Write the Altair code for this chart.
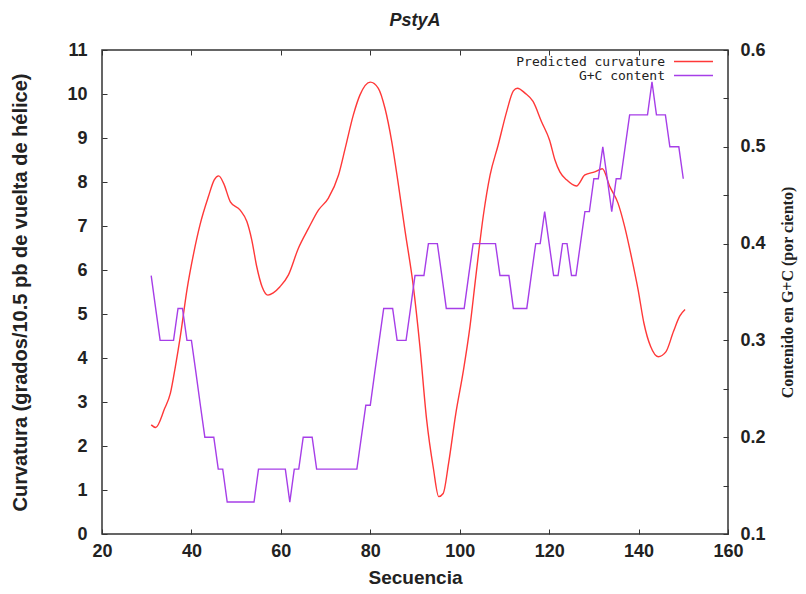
import altair as alt
import pandas as pd

# ---- data ----
series_names = ["Predicted curvature", "G+C content"]
series_colors = ["#ff3838", "#a63ee8"]

curv_x = [31, 32, 34, 35.3, 36.4, 37.5, 39, 40.5, 42, 43.8, 45.1, 46.1, 47.2, 48.7,
          50.9, 52.4, 53.5, 54.6, 55.8, 57.1, 58.3, 59.8, 61.7, 63.9, 66.2, 68.4,
          70.6, 72.9, 74.4, 76.2, 77.7, 80, 81.8, 83.3, 84.8, 86.3, 87.8, 89.6,
          91.1, 92.6, 94.1, 95.3, 96.3, 97.5, 99.1, 100.8, 102.3, 103.6, 105.3,
          106.8, 108.6, 110.5, 112, 112.9, 114.6, 116.4, 118.3, 120.1, 121.3,
          122.4, 123.9, 126.1, 128, 130.2, 131.9, 133.6, 135.4, 136.9, 138.4,
          139.9, 141.2, 142.7, 144.4, 146.1, 147.8, 149.2, 150.4]
curv_y = [2.48, 2.42, 2.85, 3.2, 3.8, 4.48, 5.55, 6.38, 7.06, 7.67, 8.05, 8.14, 7.97,
          7.55, 7.36, 7.1, 6.68, 6.08, 5.62, 5.43, 5.48, 5.62, 5.89, 6.49, 6.95,
          7.36, 7.63, 8.16, 8.77, 9.52, 9.98, 10.27, 10.13, 9.67, 8.92, 7.93, 6.87,
          5.65, 4.26, 2.6, 1.5, 0.85, 0.92, 1.6, 2.72, 3.7, 4.72, 5.85, 7.25, 8.16,
          8.84, 9.6, 10.07, 10.13, 10.02, 9.83, 9.37, 8.95, 8.5, 8.23, 8.05, 7.91,
          8.16, 8.23, 8.3, 7.89, 7.52, 6.98, 6.3, 5.55, 4.79, 4.26, 4.03, 4.14,
          4.6, 4.95, 5.1]

gc_pos = list(range(31, 151))
gc_val = [0.367, 0.333, 0.300, 0.300, 0.300, 0.300, 0.333, 0.333, 0.300, 0.300,  # 31-40
          0.267, 0.233, 0.200, 0.200, 0.200, 0.167, 0.167, 0.133, 0.133, 0.133,  # 41-50
          0.133, 0.133, 0.133, 0.133, 0.167, 0.167, 0.167, 0.167, 0.167, 0.167,  # 51-60
          0.167, 0.133, 0.167, 0.167, 0.200, 0.200, 0.200, 0.167, 0.167, 0.167,  # 61-70
          0.167, 0.167, 0.167, 0.167, 0.167, 0.167, 0.167, 0.200, 0.233, 0.233,  # 71-80
          0.267, 0.300, 0.333, 0.333, 0.333, 0.300, 0.300, 0.300, 0.333, 0.367,  # 81-90
          0.367, 0.367, 0.400, 0.400, 0.400, 0.367, 0.333, 0.333, 0.333, 0.333,  # 91-100
          0.333, 0.367, 0.400, 0.400, 0.400, 0.400, 0.400, 0.400, 0.367, 0.367,  # 101-110
          0.367, 0.333, 0.333, 0.333, 0.333, 0.367, 0.400, 0.400, 0.433, 0.400,  # 111-120
          0.367, 0.367, 0.400, 0.400, 0.367, 0.367, 0.400, 0.433, 0.433, 0.467,  # 121-130
          0.467, 0.500, 0.467, 0.433, 0.467, 0.467, 0.500, 0.533, 0.533, 0.533,  # 131-140
          0.533, 0.533, 0.567, 0.533, 0.533, 0.533, 0.500, 0.500, 0.500, 0.467]  # 141-150

x_ticks = [20, 40, 60, 80, 100, 120, 140, 160]
left_ticks = [0, 1, 2, 3, 4, 5, 6, 7, 8, 9, 10, 11]
right_ticks = [0.1, 0.15, 0.2, 0.25, 0.3, 0.35, 0.4, 0.45, 0.5, 0.55, 0.6]

curv_df = pd.DataFrame({"pos": curv_x, "curv": curv_y, "series": series_names[0]})
gc_df = pd.DataFrame({"pos": gc_pos, "gc": gc_val, "series": series_names[1]})

SANS = "Liberation Sans"
INK = "#222222"

# legend sample line: a long horizontal stroke drawn from a small symbol size
color = alt.Color(
    "series:N",
    scale=alt.Scale(domain=series_names, range=series_colors),
    legend=alt.Legend(
        title=None, orient="none", legendX=585, legendY=5, padding=0,
        symbolType="M-4,0H4", symbolSize=95, symbolStrokeWidth=1.5,
        labelAlign="right", labelOffset={"expr": "-35"}, labelLimit=300,
        labelFont="DejaVu Sans Mono", labelFontSize=13, labelColor=INK,
        rowPadding=0,
    ),
)

xscale = alt.Scale(domain=[20, 160], nice=False, zero=False)

common_axis = dict(offset=-5, tickSize=5, tickColor="#333333", tickWidth=1,
                   domain=False, grid=False, labelOverlap=False)

red = alt.Chart(curv_df).mark_line(strokeWidth=1.4, interpolate="monotone").encode(
    x=alt.X("pos:Q", scale=xscale,
            axis=alt.Axis(orient="bottom", values=x_ticks, title="Secuencia",
                          labelPadding=8, labelFlush=False,
                          labelFont=SANS, labelFontSize=18, labelFontWeight="bold",
                          labelColor=INK, titleFont=SANS, titleFontSize=19,
                          titleFontWeight="bold", titleColor=INK, titlePadding=8,
                          **common_axis)),
    y=alt.Y("curv:Q", scale=alt.Scale(domain=[0, 11], nice=False),
            axis=alt.Axis(orient="left", values=left_ticks,
                          title="Curvatura (grados/10.5 pb de vuelta de hélice)",
                          labelPadding=15, labelFont=SANS, labelFontSize=18,
                          labelFontWeight="bold", labelColor=INK,
                          titleFont=SANS, titleFontSize=20, titleFontWeight="bold",
                          titleColor=INK, titlePadding=36, **common_axis)),
    color=color,
)

purple = alt.Chart(gc_df).mark_line(strokeWidth=1.4).encode(
    x=alt.X("pos:Q", scale=xscale, title=None,
            axis=alt.Axis(orient="top", values=x_ticks, labels=False, **common_axis)),
    y=alt.Y("gc:Q", scale=alt.Scale(domain=[0.1, 0.6], nice=False, zero=False),
            axis=alt.Axis(orient="right", values=right_ticks,
                          labelExpr="(round(datum.value*100) % 10 == 0) ? format(datum.value, '.1f') : ''",
                          title="Contenido en G+C (por ciento)",
                          labelPadding=12, labelFont=SANS, labelFontSize=18,
                          labelFontWeight="bold", labelColor=INK,
                          titleFont="Liberation Serif", titleFontSize=16,
                          titleFontWeight="bold", titleColor=INK,
                          titleAngle=270, titleBaseline="top", titlePadding=14,
                          **common_axis)),
    color=color,
)

chart = alt.layer(red, purple).resolve_scale(y="independent").properties(
    width=626, height=484,
    padding={"left": 94, "top": 42, "right": 70, "bottom": 52},
    autosize=alt.AutoSizeParams(type="none"),
    title=alt.TitleParams("PstyA", font=SANS, fontSize=18, fontWeight="bold",
                          fontStyle="italic", color=INK, offset=11, anchor="middle"),
).configure_view(stroke="#333333", strokeWidth=1.5)

chart.save("out.html", embed_options={"renderer": "svg", "actions": False})
